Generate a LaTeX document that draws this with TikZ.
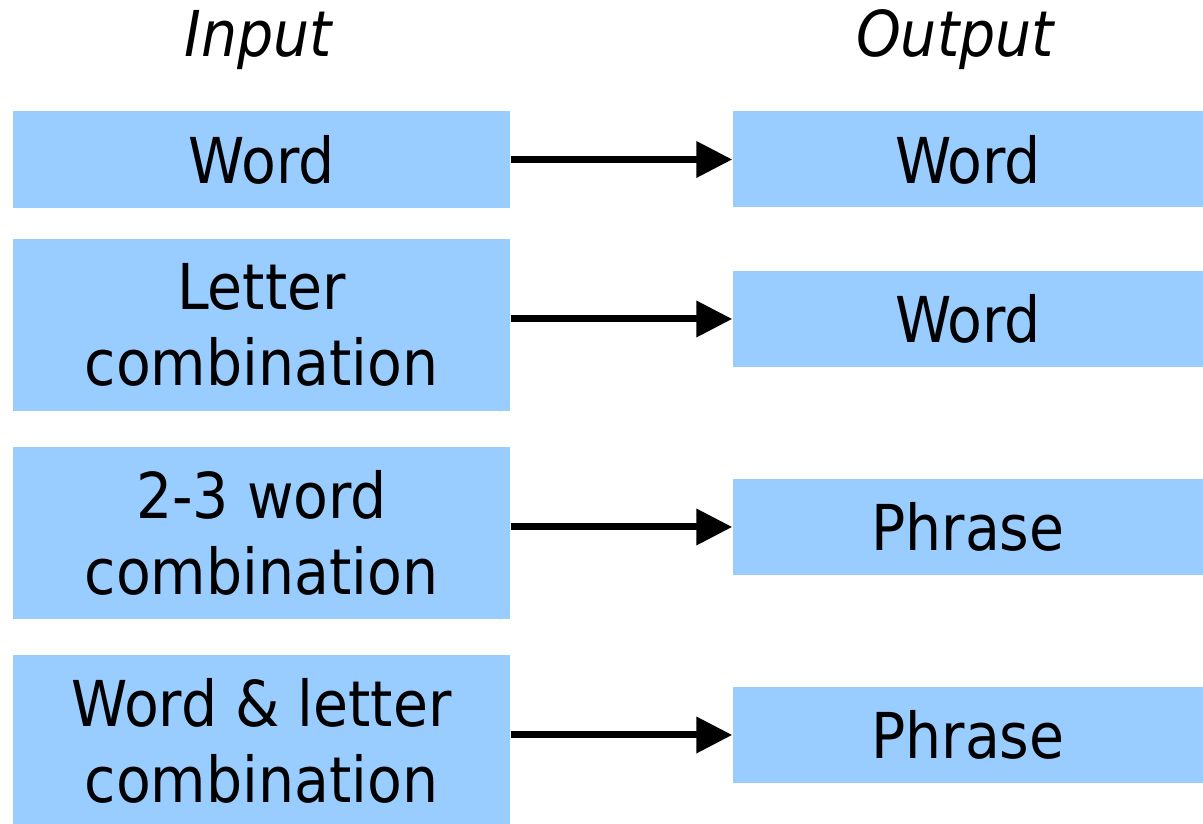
\documentclass[tikz,border=0pt]{standalone}
\usepackage{fontspec}
\setmainfont{DejaVu Sans Condensed}
\usetikzlibrary{arrows.meta}
\definecolor{boxblue}{HTML}{99CCFF}
\begin{document}
\begin{tikzpicture}[
		inbox/.style = {fill=boxblue, minimum width=4.97cm, align=center, inner sep=0pt, font=\fontsize{18pt}{21.6pt}\selectfont},
		outbox/.style = {fill=boxblue, minimum width=4.70cm, minimum height=0.96cm, inner sep=0pt, font=\fontsize{18pt}{21.6pt}\selectfont},
		head/.style = {font=\fontsize{18pt}{21.6pt}\selectfont\itshape},
		link/.style = {line width = 0.07cm, -{Triangle[length=0.36cm, width=0.35cm]}}
	]
	
	\useasboundingbox (0,0) rectangle (12.03,-8.24);
	
	\node[head] (input) at (2.58,-0.40) {Input};
	\node[head] (output) at (9.55,-0.40) {Output};
	
	\node[inbox, minimum height=0.97cm] (in1) at (2.615,-1.595) {Word};
	\node[inbox, minimum height=1.72cm] (in2) at (2.615,-3.25) {Letter\\combination};
	\node[inbox, minimum height=1.72cm] (in3) at (2.615,-5.33) {2-3 word\\combination};
	\node[inbox, minimum height=1.72cm] (in4) at (2.615,-7.41) {Word \& letter\\combination};
	
	\node[outbox] (out1) at (9.68,-1.595) {Word};
	\node[outbox] (out2) at (9.68,-3.19) {Word};
	\node[outbox] (out3) at (9.68,-5.27) {Phrase};
	\node[outbox] (out4) at (9.68,-7.35) {Phrase};
	
	\draw[link] (in1.east |- out1) -- (out1.west);
	\draw[link] (in2.east |- out2) -- (out2.west);
	\draw[link] (in3.east |- out3) -- (out3.west);
	\draw[link] (in4.east |- out4) -- (out4.west);
	
\end{tikzpicture}
\end{document}
